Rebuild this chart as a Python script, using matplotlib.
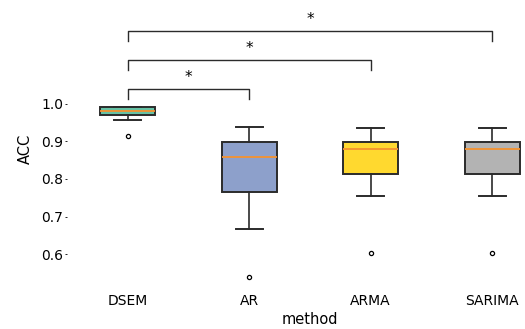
import matplotlib
matplotlib.use("Agg")
import matplotlib.pyplot as plt

methods = ["DSEM", "AR", "ARMA", "SARIMA"]
colors = ["#66c2a5", "#8da0cb", "#ffd92f", "#b3b3b3"]

# five-number summaries
whislo = [0.957, 0.666, 0.755, 0.755]
q1 = [0.971, 0.766, 0.814, 0.814]
med = [0.980, 0.858, 0.879, 0.879]
q3 = [0.990, 0.899, 0.899, 0.899]
whishi = [0.990, 0.939, 0.935, 0.935]
fliers = [[0.913], [0.538], [0.602], [0.602]]

# significance brackets: (left, right, height)
pairs = [(0, 1), (0, 2), (0, 3)]
bracket_y = [1.040, 1.117, 1.194]
bracket_drop = 0.027
labels = ["*", "*", "*"]

fig = plt.figure(figsize=(5.25, 3.29), dpi=100)
ax = fig.add_axes([0.1275, 0.1246, 0.9257, 0.8465])

stats = []
for i, m in enumerate(methods):
    stats.append({"label": m, "whislo": whislo[i], "q1": q1[i], "med": med[i],
                  "q3": q3[i], "whishi": whishi[i], "fliers": fliers[i]})

edge = "#2b2b2b"
bp = ax.bxp(stats, positions=range(len(methods)), widths=0.45, patch_artist=True,
            boxprops=dict(edgecolor=edge, linewidth=1.4),
            whiskerprops=dict(color=edge, linewidth=1.2),
            capprops=dict(color=edge, linewidth=1.4),
            medianprops=dict(color="#f5922f", linewidth=1.3),
            flierprops=dict(marker="o", markersize=3, markerfacecolor="none",
                            markeredgecolor="black", markeredgewidth=0.9))
for patch, c in zip(bp["boxes"], colors):
    patch.set_facecolor(c)

for (a, b), y, lab in zip(pairs, bracket_y, labels):
    ax.plot([a, a, b, b], [y - bracket_drop, y, y, y - bracket_drop],
            color=edge, linewidth=1.0)
    ax.text((a + b) / 2, y + 0.03, lab, ha="center", va="center", fontsize=11)

ax.set_xlim(-0.5, 3.5)
ax.set_ylim(0.51, 1.25)
ax.set_yticks([0.6, 0.7, 0.8, 0.9, 1.0])
ax.set_xticks(range(len(methods)))
ax.set_xticklabels(methods, fontsize=10)
ax.tick_params(axis="x", length=0, pad=4)
ax.tick_params(axis="y", length=1.2, width=0.6, labelsize=10, pad=1.5)
for s in ax.spines.values():
    s.set_visible(False)
ax.set_xlabel("method", fontsize=10.5, labelpad=3)
ax.set_ylabel("ACC", fontsize=10.5, labelpad=6)

fig.savefig("out.png", dpi=100)
